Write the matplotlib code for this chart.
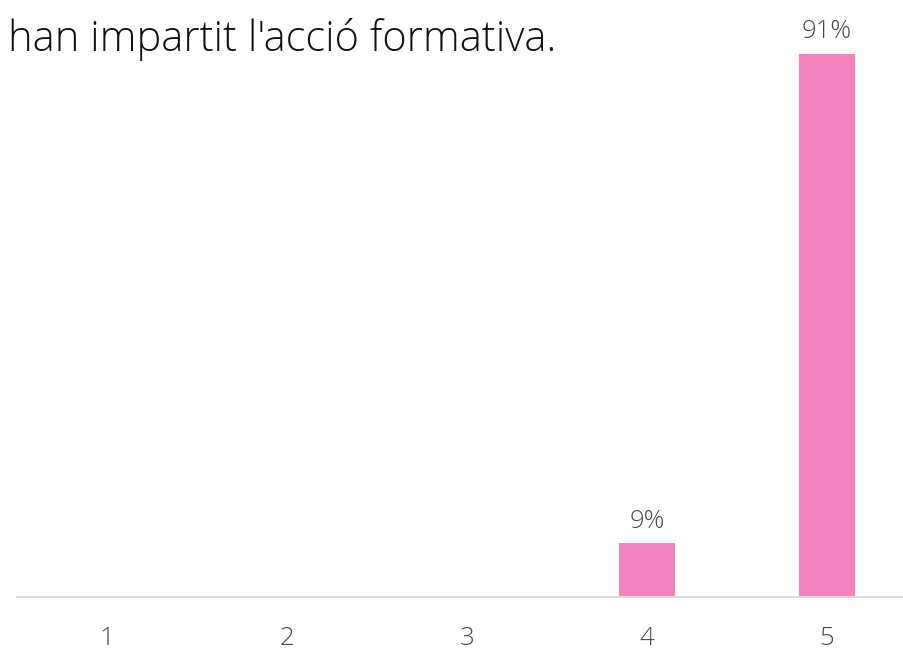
import matplotlib
matplotlib.use('Agg')
import matplotlib.pyplot as plt

categories = ['1', '2', '3', '4', '5']
values = [0, 0, 0, 9, 91]
title = "han impartit l'acció formativa."

plt.rcParams['font.family'] = ['Open Sans', 'DejaVu Sans']

W, H = 904, 651
fig = plt.figure(figsize=(W / 100, H / 100), dpi=100)

# axes spans 900 px wide, bottom at y=597, so it runs past the right edge
ax = fig.add_axes([17 / W, (H - 597) / H, 900 / W, 597 / H])

x = range(len(categories))
bars = ax.bar(x, values, width=0.31, color='#F383BE', zorder=2)

for i, v in enumerate(values):
    if v > 0:
        ax.annotate(f'{v}%', (i, v), textcoords='offset points', xytext=(0, 7),
                    ha='center', va='bottom', fontsize=18.5, color='#4a4a4a',
                    fontweight='light', annotation_clip=False)

ax.set_xlim(-0.5, 4.5)
ax.set_ylim(0, 100)
ax.set_xticks(list(x))
ax.set_xticklabels(categories, fontsize=18.5, color='#4a4a4a', fontweight='light')
ax.tick_params(axis='x', length=0, pad=21)
ax.set_yticks([])
for s in ['top', 'right', 'left']:
    ax.spines[s].set_visible(False)
ax.spines['bottom'].set_color('#D9D9D9')
ax.spines['bottom'].set_linewidth(1.5)

fig.text(8 / W, 1 - 51 / H, title, fontsize=30, color='#111111',
         fontweight='light', ha='left', va='baseline')

fig.savefig('out.png', dpi=100)
